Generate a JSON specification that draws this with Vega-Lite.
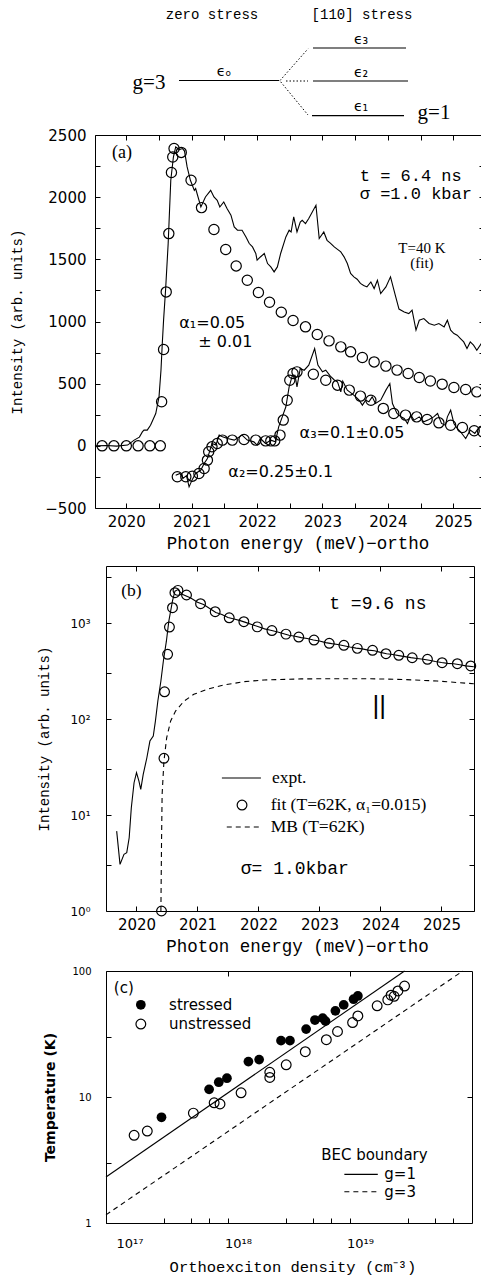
{
"$schema":"https://vega.github.io/schema/vega-lite/v6.json",
"padding":{"left":10,"top":0,"right":0,"bottom":0},
"config":{"view":{"stroke":null},"axis":{"grid":false,"domainColor":"black","tickColor":"black","labelColor":"black","titleColor":"black","tickSize":-5,"domainWidth":1,"tickWidth":1,"labelFont":"DejaVu Sans","labelFontSize":15,"titleFont":"Liberation Mono","titleFontSize":17.5,"titleFontWeight":"normal"}},
"datasets":{
"levels":[{"x0":0,"x1":3,"y0":0.0,"y1":0.0},{"x0":4.02,"x1":6.81,"y0":0.985,"y1":0.985},{"x0":4.02,"x1":6.87,"y0":-0.015,"y1":-0.015},{"x0":3.99,"x1":6.75,"y0":-1.067,"y1":-1.067}],
"splits":[{"x0":3.03,"x1":3.87,"y0":0.0,"y1":0.96},{"x0":3.21,"x1":3.87,"y0":-0.015,"y1":-0.015},{"x0":3.05,"x1":3.87,"y0":-0.04,"y1":-1.045}],
"dtext_mono":[{"x":0.99,"y":1.985,"t":"zero stress"},{"x":5.49,"y":1.985,"t":"[110] stress"}],
"dtext_g":[{"x":-0.9,"y":-0.076,"t":"g=3"},{"x":7.65,"y":-0.985,"t":"g=1"}],
"dtext_eps":[{"x":1.35,"y":0.26,"t":"ϵₒ"},{"x":5.46,"y":1.24,"t":"ϵ₃"},{"x":5.46,"y":0.23,"t":"ϵ₂"},{"x":5.46,"y":-0.8,"t":"ϵ₁"}],
"a_expt_upper":[{"E":2019.52,"I":0},{"E":2019.7,"I":3},{"E":2019.85,"I":-2},{"E":2020.02,"I":6},{"E":2020.12,"I":46},{"E":2020.2,"I":70},{"E":2020.245,"I":112},{"E":2020.27,"I":126},{"E":2020.32,"I":126},{"E":2020.37,"I":166},{"E":2020.45,"I":260},{"E":2020.5,"I":394},{"E":2020.53,"I":608},{"E":2020.55,"I":823},{"E":2020.57,"I":1013},{"E":2020.6,"I":1252},{"E":2020.64,"I":1627},{"E":2020.68,"I":2136},{"E":2020.72,"I":2323},{"E":2020.755,"I":2404},{"E":2020.81,"I":2383},{"E":2020.86,"I":2391},{"E":2020.89,"I":2371},{"E":2020.93,"I":2243},{"E":2020.98,"I":2136},{"E":2021.04,"I":2055},{"E":2021.06,"I":2069},{"E":2021.14,"I":1921},{"E":2021.21,"I":2002},{"E":2021.29,"I":2055},{"E":2021.34,"I":2002},{"E":2021.39,"I":1975},{"E":2021.43,"I":1921},{"E":2021.49,"I":1961},{"E":2021.54,"I":1908},{"E":2021.6,"I":1855},{"E":2021.65,"I":1760},{"E":2021.7,"I":1734},{"E":2021.77,"I":1734},{"E":2021.83,"I":1680},{"E":2021.88,"I":1627},{"E":2021.93,"I":1600},{"E":2021.98,"I":1547},{"E":2022.0,"I":1493},{"E":2022.05,"I":1519},{"E":2022.11,"I":1547},{"E":2022.16,"I":1466},{"E":2022.21,"I":1439},{"E":2022.26,"I":1399},{"E":2022.31,"I":1439},{"E":2022.36,"I":1547},{"E":2022.44,"I":1680},{"E":2022.49,"I":1734},{"E":2022.52,"I":1720},{"E":2022.56,"I":1841},{"E":2022.61,"I":1720},{"E":2022.66,"I":1800},{"E":2022.69,"I":1814},{"E":2022.74,"I":1788},{"E":2022.79,"I":1828},{"E":2022.9,"I":1935},{"E":2022.95,"I":1667},{"E":2023.02,"I":1720},{"E":2023.07,"I":1653},{"E":2023.12,"I":1630},{"E":2023.18,"I":1600},{"E":2023.23,"I":1580},{"E":2023.28,"I":1560},{"E":2023.33,"I":1520},{"E":2023.38,"I":1466},{"E":2023.43,"I":1386},{"E":2023.48,"I":1359},{"E":2023.53,"I":1340},{"E":2023.58,"I":1306},{"E":2023.63,"I":1290},{"E":2023.68,"I":1278},{"E":2023.74,"I":1318},{"E":2023.79,"I":1265},{"E":2023.84,"I":1332},{"E":2023.89,"I":1225},{"E":2023.97,"I":1278},{"E":2024.04,"I":1359},{"E":2024.12,"I":1198},{"E":2024.17,"I":1100},{"E":2024.25,"I":1077},{"E":2024.32,"I":1064},{"E":2024.37,"I":1091},{"E":2024.43,"I":930},{"E":2024.48,"I":1010},{"E":2024.55,"I":1024},{"E":2024.63,"I":984},{"E":2024.71,"I":970},{"E":2024.78,"I":984},{"E":2024.86,"I":957},{"E":2024.91,"I":1010},{"E":2024.96,"I":930},{"E":2025.01,"I":903},{"E":2025.06,"I":890},{"E":2025.11,"I":863},{"E":2025.16,"I":836},{"E":2025.21,"I":783},{"E":2025.26,"I":836},{"E":2025.31,"I":810},{"E":2025.36,"I":769},{"E":2025.43,"I":823},{"E":2025.47,"I":783}],
"a_fit_upper":[{"E":2019.63,"I":0},{"E":2019.81,"I":0},{"E":2020.0,"I":0},{"E":2020.18,"I":0},{"E":2020.36,"I":0},{"E":2020.52,"I":0},{"E":2020.54,"I":354},{"E":2020.57,"I":775},{"E":2020.61,"I":1238},{"E":2020.65,"I":1707},{"E":2020.69,"I":2198},{"E":2020.71,"I":2323},{"E":2020.73,"I":2391},{"E":2020.84,"I":2360},{"E":2020.99,"I":2136},{"E":2021.15,"I":1916},{"E":2021.34,"I":1740},{"E":2021.52,"I":1579},{"E":2021.68,"I":1447},{"E":2021.85,"I":1332},{"E":2022.02,"I":1233},{"E":2022.19,"I":1155},{"E":2022.37,"I":1075},{"E":2022.55,"I":1008},{"E":2022.74,"I":957},{"E":2022.92,"I":895},{"E":2023.1,"I":844},{"E":2023.28,"I":796},{"E":2023.43,"I":756},{"E":2023.61,"I":711},{"E":2023.79,"I":675},{"E":2023.97,"I":641},{"E":2024.14,"I":609},{"E":2024.31,"I":582},{"E":2024.48,"I":550},{"E":2024.65,"I":522},{"E":2024.83,"I":496},{"E":2025.01,"I":469},{"E":2025.19,"I":453},{"E":2025.36,"I":434}],
"a_expt_lower":[{"E":2020.755,"I":-236},{"E":2020.82,"I":-222},{"E":2020.87,"I":-260},{"E":2020.92,"I":-240},{"E":2020.96,"I":-330},{"E":2021.01,"I":-270},{"E":2021.06,"I":-222},{"E":2021.14,"I":-195},{"E":2021.19,"I":-142},{"E":2021.24,"I":-102},{"E":2021.28,"I":-35},{"E":2021.31,"I":19},{"E":2021.37,"I":6},{"E":2021.42,"I":86},{"E":2021.47,"I":73},{"E":2021.55,"I":59},{"E":2021.65,"I":46},{"E":2021.77,"I":86},{"E":2021.85,"I":46},{"E":2021.95,"I":32},{"E":2022.0,"I":6},{"E":2022.05,"I":59},{"E":2022.13,"I":19},{"E":2022.21,"I":46},{"E":2022.28,"I":32},{"E":2022.33,"I":153},{"E":2022.385,"I":233},{"E":2022.44,"I":314},{"E":2022.49,"I":474},{"E":2022.54,"I":568},{"E":2022.58,"I":568},{"E":2022.61,"I":474},{"E":2022.66,"I":622},{"E":2022.72,"I":608},{"E":2022.79,"I":649},{"E":2022.88,"I":783},{"E":2022.93,"I":649},{"E":2023.0,"I":595},{"E":2023.05,"I":608},{"E":2023.12,"I":560},{"E":2023.18,"I":530},{"E":2023.23,"I":514},{"E":2023.28,"I":434},{"E":2023.31,"I":520},{"E":2023.38,"I":448},{"E":2023.45,"I":420},{"E":2023.51,"I":394},{"E":2023.56,"I":367},{"E":2023.61,"I":327},{"E":2023.66,"I":367},{"E":2023.71,"I":354},{"E":2023.76,"I":394},{"E":2023.81,"I":340},{"E":2023.89,"I":367},{"E":2023.97,"I":448},{"E":2024.03,"I":501},{"E":2024.07,"I":340},{"E":2024.14,"I":260},{"E":2024.2,"I":233},{"E":2024.25,"I":220},{"E":2024.3,"I":180},{"E":2024.35,"I":247},{"E":2024.4,"I":207},{"E":2024.48,"I":233},{"E":2024.55,"I":193},{"E":2024.63,"I":212},{"E":2024.7,"I":233},{"E":2024.76,"I":260},{"E":2024.82,"I":180},{"E":2024.88,"I":166},{"E":2024.91,"I":233},{"E":2024.96,"I":287},{"E":2025.01,"I":180},{"E":2025.06,"I":140},{"E":2025.11,"I":113},{"E":2025.19,"I":59},{"E":2025.26,"I":126},{"E":2025.33,"I":100},{"E":2025.4,"I":153},{"E":2025.47,"I":166}],
"a_fit_lower":[{"E":2020.78,"I":-249},{"E":2020.91,"I":-249},{"E":2021.01,"I":-244},{"E":2021.11,"I":-222},{"E":2021.19,"I":-182},{"E":2021.24,"I":-115},{"E":2021.26,"I":-48},{"E":2021.31,"I":-8},{"E":2021.39,"I":19},{"E":2021.47,"I":46},{"E":2021.62,"I":46},{"E":2021.8,"I":51},{"E":2021.98,"I":46},{"E":2022.13,"I":40},{"E":2022.21,"I":40},{"E":2022.27,"I":40},{"E":2022.35,"I":86},{"E":2022.4,"I":207},{"E":2022.46,"I":367},{"E":2022.5,"I":528},{"E":2022.55,"I":582},{"E":2022.61,"I":595},{"E":2022.86,"I":576},{"E":2023.05,"I":528},{"E":2023.23,"I":488},{"E":2023.41,"I":448},{"E":2023.58,"I":400},{"E":2023.74,"I":367},{"E":2023.93,"I":301},{"E":2024.09,"I":260},{"E":2024.27,"I":247},{"E":2024.44,"I":233},{"E":2024.6,"I":212},{"E":2024.78,"I":185},{"E":2024.96,"I":166},{"E":2025.14,"I":148},{"E":2025.32,"I":121},{"E":2025.45,"I":113}],
"a_txt_label":[{"E":2019.78,"I":2353,"t":"(a)"}],
"a_txt_fit":[{"E":2024.52,"I":1589,"t":["T=40 K","(fit)"]}],
"a_txt_mono":[{"E":2023.57,"I":2170,"t":["t = 6.4 ns","σ =1.0 kbar"]}],
"a_txt_alpha":[{"E":2020.81,"I":986,"t":"α₁=0.05"},{"E":2021.1,"I":834,"t":"± 0.01"},{"E":2022.65,"I":102,"t":"α₃=0.1±0.05"},{"E":2021.56,"I":-211,"t":"α₂=0.25±0.1"}],
"b_expt":[{"E":2019.675,"I":6.8},{"E":2019.73,"I":3.06},{"E":2019.795,"I":3.9},{"E":2019.84,"I":4.05},{"E":2019.88,"I":5.8},{"E":2019.915,"I":11.9},{"E":2019.96,"I":21.7},{"E":2020.0,"I":27.6},{"E":2020.04,"I":22.6},{"E":2020.07,"I":18.5},{"E":2020.11,"I":26.5},{"E":2020.17,"I":39.5},{"E":2020.22,"I":59},{"E":2020.275,"I":66.5},{"E":2020.31,"I":95},{"E":2020.35,"I":154},{"E":2020.4,"I":249},{"E":2020.44,"I":400},{"E":2020.49,"I":647},{"E":2020.53,"I":1047},{"E":2020.59,"I":1700},{"E":2020.63,"I":2150},{"E":2020.68,"I":2230},{"E":2020.75,"I":1990},{"E":2020.89,"I":1820},{"E":2021.0,"I":1650},{"E":2021.1,"I":1560},{"E":2021.2,"I":1420},{"E":2021.3,"I":1290},{"E":2021.4,"I":1230},{"E":2021.5,"I":1140},{"E":2021.6,"I":1100},{"E":2021.7,"I":1060},{"E":2021.8,"I":1010},{"E":2021.9,"I":960},{"E":2022.0,"I":915},{"E":2022.1,"I":870},{"E":2022.2,"I":840},{"E":2022.3,"I":810},{"E":2022.4,"I":780},{"E":2022.5,"I":745},{"E":2022.6,"I":730},{"E":2022.7,"I":705},{"E":2022.8,"I":690},{"E":2022.9,"I":665},{"E":2023.0,"I":650},{"E":2023.1,"I":625},{"E":2023.2,"I":610},{"E":2023.3,"I":598},{"E":2023.4,"I":580},{"E":2023.5,"I":562},{"E":2023.6,"I":548},{"E":2023.7,"I":538},{"E":2023.8,"I":522},{"E":2023.9,"I":515},{"E":2024.0,"I":495},{"E":2024.1,"I":478},{"E":2024.2,"I":470},{"E":2024.3,"I":458},{"E":2024.4,"I":447},{"E":2024.5,"I":436},{"E":2024.6,"I":428},{"E":2024.7,"I":420},{"E":2024.8,"I":410},{"E":2024.9,"I":398},{"E":2025.0,"I":388},{"E":2025.1,"I":380},{"E":2025.2,"I":376},{"E":2025.3,"I":368},{"E":2025.4,"I":358},{"E":2025.53,"I":350}],
"b_mb":[{"E":2020.4,"I":1},{"E":2020.41,"I":4.95},{"E":2020.42,"I":16.4},{"E":2020.45,"I":36.5},{"E":2020.495,"I":64},{"E":2020.56,"I":95.5},{"E":2020.64,"I":121},{"E":2020.78,"I":154},{"E":2020.94,"I":181},{"E":2021.16,"I":204},{"E":2021.43,"I":226},{"E":2021.76,"I":245},{"E":2022.09,"I":255},{"E":2022.7,"I":262},{"E":2023.29,"I":263},{"E":2023.84,"I":263},{"E":2024.385,"I":258},{"E":2024.93,"I":249},{"E":2025.53,"I":233}],
"b_fit":[{"E":2020.41,"I":1.0},{"E":2020.45,"I":39},{"E":2020.46,"I":192},{"E":2020.51,"I":472},{"E":2020.54,"I":908},{"E":2020.59,"I":1445},{"E":2020.63,"I":2070},{"E":2020.68,"I":2190},{"E":2020.82,"I":1960},{"E":2021.05,"I":1590},{"E":2021.29,"I":1313},{"E":2021.52,"I":1135},{"E":2021.76,"I":1032},{"E":2021.98,"I":912},{"E":2022.22,"I":835},{"E":2022.45,"I":767},{"E":2022.66,"I":715},{"E":2022.91,"I":665},{"E":2023.16,"I":615},{"E":2023.4,"I":586},{"E":2023.62,"I":545},{"E":2023.87,"I":520},{"E":2024.09,"I":479},{"E":2024.3,"I":461},{"E":2024.52,"I":435},{"E":2024.77,"I":419},{"E":2025.01,"I":386},{"E":2025.26,"I":377},{"E":2025.48,"I":357}],
"b_leg_solid":[{"E":2021.4,"E2":2022.04,"I":24.3}],
"b_leg_dash":[{"E":2021.48,"E2":2022.04,"I":7.5}],
"b_leg_pt":[{"E":2021.73,"I":12.7}],
"b_txt_serif":[{"E":2019.75,"I":2154,"t":"(b)"},{"E":2022.22,"I":24.3,"t":"expt."},{"E":2022.2,"I":12.7,"t":"fit (T=62K, α₁=0.015)"},{"E":2022.2,"I":7.5,"t":"MB (T=62K)"}],
"b_txt_mono":[{"E":2023.16,"I":1577,"t":"t =9.6 ns"},{"E":2021.71,"I":2.74,"t":"σ= 1.0kbar"}],
"b_bars":[{"E":2023.98,"I":136,"t":"||"}],
"c_stressed":[{"n":2.85e17,"T":6.9},{"n":7.0e17,"T":11.5},{"n":8.4e17,"T":13.1},{"n":9.8e17,"T":14.1},{"n":1.47e18,"T":19.1},{"n":1.8e18,"T":19.8},{"n":2.72e18,"T":28},{"n":3.22e18,"T":28},{"n":4.37e18,"T":34.6},{"n":5.16e18,"T":40.8},{"n":5.97e18,"T":42.3},{"n":6.3e18,"T":40},{"n":7.59e18,"T":48.3},{"n":8.88e18,"T":53.8},{"n":1.07e19,"T":59.7},{"n":1.16e19,"T":63.4}],
"c_unstressed":[{"n":1.7e17,"T":4.97},{"n":2.18e17,"T":5.37},{"n":5.2e17,"T":7.45},{"n":7.7e17,"T":9.0},{"n":8.6e17,"T":8.8},{"n":1.28e18,"T":10.8},{"n":2.2e18,"T":15.7},{"n":2.2e18,"T":14.3},{"n":3.0e18,"T":18},{"n":4.3e18,"T":22.9},{"n":6.4e18,"T":28.5},{"n":7.9e18,"T":33.1},{"n":1.05e19,"T":39},{"n":1.16e19,"T":44},{"n":1.67e19,"T":52.9},{"n":2.04e19,"T":59},{"n":2.17e19,"T":64.3},{"n":2.3e19,"T":63},{"n":2.47e19,"T":69.5},{"n":2.8e19,"T":76}],
"c_g1":[{"n":1e17,"T":2.32},{"n":2.8e19,"T":100}],
"c_g3":[{"n":1e17,"T":1.16},{"n":8.4e19,"T":100}],
"c_leg_g1":[{"n":8.99e18,"n2":1.69e19,"T":2.43}],
"c_leg_g3":[{"n":8.99e18,"n2":1.69e19,"T":1.77}],
"c_leg_filled":[{"n":1.93e17,"T":53.9}],
"c_leg_open":[{"n":1.93e17,"T":37.9}],
"c_txt":[{"n":1.16e17,"T":73.4,"t":"(c)"},{"n":3.29e17,"T":53.9,"t":"stressed"},{"n":3.29e17,"T":37.9,"t":"unstressed"},{"n":5.8e18,"T":3.45,"t":"BEC boundary"},{"n":1.91e19,"T":2.43,"t":"g=1"},{"n":1.91e19,"T":1.77,"t":"g=3"}]
},
"spacing":3,
"vconcat":[
{
"width":366,"height":125,
"layer":[
{"data":{"name":"levels"},"mark":{"type":"rule","color":"black","strokeWidth":1.2},"encoding":{"x":{"field":"x0","type":"quantitative","scale":{"domain":[-2.19,8.79],"nice":false,"zero":false},"axis":null},"x2":{"field":"x1"},"y":{"field":"y0","type":"quantitative","scale":{"domain":[-1.348,2.439],"nice":false,"zero":false},"axis":null},"y2":{"field":"y1"}}},
{"data":{"name":"splits"},"mark":{"type":"rule","color":"black","strokeWidth":1,"strokeDash":[1.5,2]},"encoding":{"x":{"field":"x0","type":"quantitative"},"x2":{"field":"x1"},"y":{"field":"y0","type":"quantitative"},"y2":{"field":"y1"}}},
{"data":{"name":"dtext_mono"},"mark":{"type":"text","font":"Liberation Mono","fontSize":14,"align":"center","baseline":"middle","color":"black"},"encoding":{"x":{"field":"x","type":"quantitative"},"y":{"field":"y","type":"quantitative"},"text":{"field":"t"}}},
{"data":{"name":"dtext_g"},"mark":{"type":"text","font":"Liberation Serif","fontSize":21,"align":"center","baseline":"middle","color":"black"},"encoding":{"x":{"field":"x","type":"quantitative"},"y":{"field":"y","type":"quantitative"},"text":{"field":"t"}}},
{"data":{"name":"dtext_eps"},"mark":{"type":"text","font":"DejaVu Sans","fontSize":14,"align":"center","baseline":"middle","color":"black"},"encoding":{"x":{"field":"x","type":"quantitative"},"y":{"field":"y","type":"quantitative"},"text":{"field":"t"}}}
]
},
{
"spacing":13,
"vconcat":[
{
"width":378,"height":373,
"resolve":{"axis":{"x":"independent","y":"independent"}},
"layer":[
{"data":{"name":"a_expt_upper"},"mark":{"type":"line","color":"black","strokeWidth":1.1},"encoding":{"x":{"field":"E","type":"quantitative","scale":{"domain":[2019.521,2025.47],"range":[-11,378],"nice":false,"zero":false},"axis":{"title":"Photon energy (meV)−ortho","titleX":191.5,"values":[2020,2020.5,2021,2021.5,2022,2022.5,2023,2023.5,2024,2024.5,2025],"labelExpr":"datum.value % 1 === 0 ? format(datum.value,'d') : ''","labelPadding":11,"titlePadding":5}},"y":{"field":"I","type":"quantitative","scale":{"domain":[-500,2500],"nice":false,"zero":false},"axis":{"title":"Intensity (arb. units)","offset":11,"values":[-500,-250,0,250,500,750,1000,1250,1500,1750,2000,2250,2500],"labelExpr":"datum.value % 500 === 0 ? format(datum.value,'d') : ''","labelPadding":14,"titlePadding":20,"titleFontSize":14}}}},
{"data":{"name":"a_expt_upper"},"mark":{"type":"point","opacity":0},"encoding":{"x":{"field":"E","type":"quantitative","scale":{"domain":[2019.521,2025.47],"range":[-11,378],"nice":false,"zero":false},"axis":{"orient":"top","labels":false,"title":null,"values":[2020,2020.5,2021,2021.5,2022,2022.5,2023,2023.5,2024,2024.5,2025]}},"y":{"field":"I","type":"quantitative","scale":{"domain":[-500,2500],"nice":false,"zero":false},"axis":{"orient":"right","labels":false,"title":null,"domain":false,"values":[-500,-250,0,250,500,750,1000,1250,1500,1750,2000,2250,2500]}}}},
{"data":{"name":"a_expt_lower"},"mark":{"type":"line","color":"black","strokeWidth":1.1},"encoding":{"x":{"field":"E","type":"quantitative","axis":null},"y":{"field":"I","type":"quantitative","axis":null}}},
{"data":{"name":"a_fit_upper"},"mark":{"type":"point","shape":"circle","filled":false,"color":"black","strokeWidth":1.2,"size":105,"opacity":1},"encoding":{"x":{"field":"E","type":"quantitative","axis":null},"y":{"field":"I","type":"quantitative","axis":null}}},
{"data":{"name":"a_fit_lower"},"mark":{"type":"point","shape":"circle","filled":false,"color":"black","strokeWidth":1.2,"size":105,"opacity":1},"encoding":{"x":{"field":"E","type":"quantitative","axis":null},"y":{"field":"I","type":"quantitative","axis":null}}},
{"data":{"name":"a_txt_label"},"mark":{"type":"text","font":"Liberation Serif","fontSize":18,"align":"left","baseline":"middle","color":"black"},"encoding":{"x":{"field":"E","type":"quantitative","axis":null},"y":{"field":"I","type":"quantitative","axis":null},"text":{"field":"t"}}},
{"data":{"name":"a_txt_fit"},"mark":{"type":"text","font":"Liberation Serif","fontSize":15,"lineHeight":15,"align":"center","baseline":"middle","color":"black"},"encoding":{"x":{"field":"E","type":"quantitative","axis":null},"y":{"field":"I","type":"quantitative","axis":null},"text":{"field":"t"}}},
{"data":{"name":"a_txt_mono"},"mark":{"type":"text","font":"Liberation Mono","fontSize":17,"lineHeight":17.5,"align":"left","baseline":"middle","color":"black"},"encoding":{"x":{"field":"E","type":"quantitative","axis":null},"y":{"field":"I","type":"quantitative","axis":null},"text":{"field":"t"}}},
{"data":{"name":"a_txt_alpha"},"mark":{"type":"text","font":"DejaVu Sans","fontSize":16,"align":"left","baseline":"middle","color":"black"},"encoding":{"x":{"field":"E","type":"quantitative","axis":null},"y":{"field":"I","type":"quantitative","axis":null},"text":{"field":"t"}}}
]
},
{
"spacing":11,
"vconcat":[
{
"width":368,"height":345,
"resolve":{"axis":{"x":"independent","y":"independent"}},
"layer":[
{"data":{"name":"b_expt"},"mark":{"type":"line","color":"black","strokeWidth":1.1},"encoding":{"x":{"field":"E","type":"quantitative","scale":{"domain":[2019.5,2025.533],"nice":false,"zero":false},"axis":{"title":"Photon energy (meV)−ortho","titleX":191,"values":[2020,2021,2022,2023,2024,2025],"format":"d","labelPadding":11,"titlePadding":5}},"y":{"field":"I","type":"quantitative","scale":{"type":"log","domain":[1,3930],"nice":false},"axis":{"title":"Intensity (arb. units)","values":[1,3,10,30,100,300,1000,3000],"labelExpr":"datum.value === 1 ? '10⁰' : datum.value === 10 ? '10¹' : datum.value === 100 ? '10²' : datum.value === 1000 ? '10³' : ''","labelFontSize":12,"labelPadding":21,"titlePadding":18,"titleFontSize":14}}}},
{"data":{"name":"b_expt"},"mark":{"type":"point","opacity":0},"encoding":{"x":{"field":"E","type":"quantitative","scale":{"domain":[2019.5,2025.533],"nice":false,"zero":false},"axis":{"orient":"top","labels":false,"title":null,"values":[2020,2021,2022,2023,2024,2025]}},"y":{"field":"I","type":"quantitative","scale":{"type":"log","domain":[1,3930],"nice":false},"axis":{"orient":"right","labels":false,"title":null,"values":[1,3,10,30,100,300,1000,3000]}}}},
{"data":{"name":"b_mb"},"mark":{"type":"line","color":"black","strokeWidth":1.1,"strokeDash":[5,4]},"encoding":{"x":{"field":"E","type":"quantitative","axis":null},"y":{"field":"I","type":"quantitative","axis":null}}},
{"data":{"name":"b_fit"},"mark":{"type":"point","shape":"circle","filled":false,"color":"black","strokeWidth":1.2,"size":95,"opacity":1,"clip":false},"encoding":{"x":{"field":"E","type":"quantitative","axis":null},"y":{"field":"I","type":"quantitative","axis":null}}},
{"data":{"name":"b_leg_solid"},"mark":{"type":"rule","color":"black","strokeWidth":1.1},"encoding":{"x":{"field":"E","type":"quantitative","axis":null},"x2":{"field":"E2"},"y":{"field":"I","type":"quantitative","axis":null}}},
{"data":{"name":"b_leg_dash"},"mark":{"type":"rule","color":"black","strokeWidth":1.1,"strokeDash":[5,4]},"encoding":{"x":{"field":"E","type":"quantitative","axis":null},"x2":{"field":"E2"},"y":{"field":"I","type":"quantitative","axis":null}}},
{"data":{"name":"b_leg_pt"},"mark":{"type":"point","shape":"circle","filled":false,"color":"black","strokeWidth":1.2,"size":95,"opacity":1},"encoding":{"x":{"field":"E","type":"quantitative","axis":null},"y":{"field":"I","type":"quantitative","axis":null}}},
{"data":{"name":"b_txt_serif"},"mark":{"type":"text","font":"Liberation Serif","fontSize":17.5,"align":"left","baseline":"middle","color":"black"},"encoding":{"x":{"field":"E","type":"quantitative","axis":null},"y":{"field":"I","type":"quantitative","axis":null},"text":{"field":"t"}}},
{"data":{"name":"b_txt_mono"},"mark":{"type":"text","font":"Liberation Mono","fontSize":18,"align":"left","baseline":"middle","color":"black"},"encoding":{"x":{"field":"E","type":"quantitative","axis":null},"y":{"field":"I","type":"quantitative","axis":null},"text":{"field":"t"}}},
{"data":{"name":"b_bars"},"mark":{"type":"text","font":"Liberation Sans","fontSize":26,"align":"center","baseline":"middle","color":"black"},"encoding":{"x":{"field":"E","type":"quantitative","axis":null},"y":{"field":"I","type":"quantitative","axis":null},"text":{"field":"t"}}}
]
},
{
"width":366,"height":252,
"resolve":{"axis":{"x":"independent","y":"independent"}},
"layer":[
{"data":{"name":"c_g1"},"mark":{"type":"line","color":"black","strokeWidth":1.1},"encoding":{"x":{"field":"n","type":"quantitative","scale":{"type":"log","domain":[1e17,1e20],"nice":false},"axis":{"title":"Orthoexciton density (cm⁻³)","titleX":186.5,"titleFontSize":15.5,"values":[1e17,3e17,5e17,7e17,1e18,3e18,5e18,7e18,1e19,3e19,5e19,7e19],"labelExpr":"datum.value === 1e17 ? '10¹⁷' : datum.value === 1e18 ? '10¹⁸' : datum.value === 1e19 ? '10¹⁹' : ''","labelFontSize":13,"labelOffset":10,"labelPadding":19,"titlePadding":9}},"y":{"field":"T","type":"quantitative","scale":{"type":"log","domain":[1,100],"nice":false},"axis":{"title":"Temperature (K)","titleFont":"DejaVu Sans","titleFontWeight":"bold","titleFontSize":14,"values":[1,3,10,30,100],"labelExpr":"datum.value === 3 || datum.value === 30 ? '' : format(datum.value,'d')","labelFontSize":10,"labelPadding":20,"titlePadding":14}}}},
{"data":{"name":"c_g1"},"mark":{"type":"point","opacity":0},"encoding":{"x":{"field":"n","type":"quantitative","scale":{"type":"log","domain":[1e17,1e20],"nice":false},"axis":{"orient":"top","labels":false,"title":null,"values":[1e18,1e19]}},"y":{"field":"T","type":"quantitative","scale":{"type":"log","domain":[1,100],"nice":false},"axis":{"orient":"right","labels":false,"title":null,"values":[10]}}}},
{"data":{"name":"c_g3"},"mark":{"type":"line","color":"black","strokeWidth":1.1,"strokeDash":[5,4]},"encoding":{"x":{"field":"n","type":"quantitative","axis":null},"y":{"field":"T","type":"quantitative","axis":null}}},
{"data":{"name":"c_stressed"},"mark":{"type":"point","shape":"circle","filled":true,"color":"black","size":95,"opacity":1},"encoding":{"x":{"field":"n","type":"quantitative","axis":null},"y":{"field":"T","type":"quantitative","axis":null}}},
{"data":{"name":"c_unstressed"},"mark":{"type":"point","shape":"circle","filled":false,"color":"black","strokeWidth":1.2,"size":95,"opacity":1},"encoding":{"x":{"field":"n","type":"quantitative","axis":null},"y":{"field":"T","type":"quantitative","axis":null}}},
{"data":{"name":"c_leg_filled"},"mark":{"type":"point","shape":"circle","filled":true,"color":"black","size":95,"opacity":1},"encoding":{"x":{"field":"n","type":"quantitative","axis":null},"y":{"field":"T","type":"quantitative","axis":null}}},
{"data":{"name":"c_leg_open"},"mark":{"type":"point","shape":"circle","filled":false,"color":"black","strokeWidth":1.2,"size":95,"opacity":1},"encoding":{"x":{"field":"n","type":"quantitative","axis":null},"y":{"field":"T","type":"quantitative","axis":null}}},
{"data":{"name":"c_leg_g1"},"mark":{"type":"rule","color":"black","strokeWidth":1.1},"encoding":{"x":{"field":"n","type":"quantitative","axis":null},"x2":{"field":"n2"},"y":{"field":"T","type":"quantitative","axis":null}}},
{"data":{"name":"c_leg_g3"},"mark":{"type":"rule","color":"black","strokeWidth":1.1,"strokeDash":[5,4]},"encoding":{"x":{"field":"n","type":"quantitative","axis":null},"x2":{"field":"n2"},"y":{"field":"T","type":"quantitative","axis":null}}},
{"data":{"name":"c_txt"},"mark":{"type":"text","font":"DejaVu Sans","fontSize":15,"align":"left","baseline":"middle","color":"black"},"encoding":{"x":{"field":"n","type":"quantitative","axis":null},"y":{"field":"T","type":"quantitative","axis":null},"text":{"field":"t"}}}
]
}
]
}
]
}
]
}
